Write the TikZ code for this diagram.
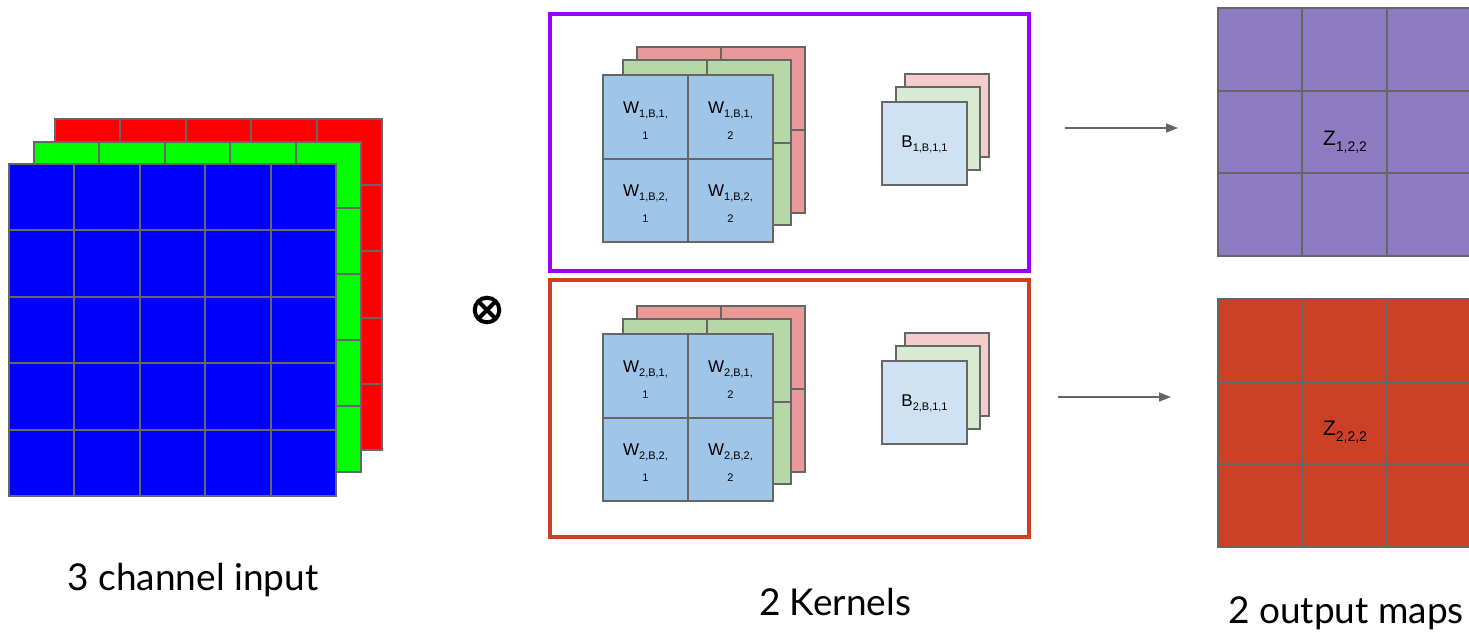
\documentclass[tikz,border=0pt]{standalone}
\usepackage{fontspec}
\setmainfont{Liberation Sans}
\newfontfamily\labelfont{Lato}
\usetikzlibrary{arrows.meta}

\definecolor{gridgray}{HTML}{666666}
\definecolor{inR}{HTML}{FF0000}
\definecolor{inG}{HTML}{00FF00}
\definecolor{inB}{HTML}{0000FF}
\definecolor{kR}{HTML}{EA9999}
\definecolor{kG}{HTML}{B6D7A8}
\definecolor{kB}{HTML}{9FC5E8}
\definecolor{bR}{HTML}{F4CCCC}
\definecolor{bG}{HTML}{D9EAD3}
\definecolor{bB}{HTML}{CFE2F3}
\definecolor{kpurple}{HTML}{9900FF}
\definecolor{kred}{HTML}{CC4125}
\definecolor{outP}{HTML}{8E7CC3}
\definecolor{outR}{HTML}{CC4125}

\tikzset{
  gridln/.style={draw=gridgray, line width=2pt},
  kernelbox/.style={line width=4.5pt},
  flow/.style={draw=gridgray, line width=1.6pt, -{Triangle[length=12pt,width=9pt]}},
  caption/.style={font=\labelfont\fontsize{37}{42}\selectfont, inner sep=0pt},
  wlabel/.style={font=\fontsize{17}{19}\selectfont, align=center, inner sep=0pt},
  zlabel/.style={font=\fontsize{21}{23}\selectfont, inner sep=0pt},
}

% a filled sheet of n x n cells: x0 y0 x1 y1 n fill
\newcommand\gridsheet[6]{%
  \fill[#6] (#1,#2) rectangle (#3,#4);
  \pgfmathtruncatemacro\gsm{#5-1}%
  \ifnum\gsm>0
  \foreach \k in {1,...,\gsm}{%
    \draw[gridln] ({#1+(#3-#1)*\k/#5},#2) -- ({#1+(#3-#1)*\k/#5},#4);
    \draw[gridln] (#1,{#2+(#4-#2)*\k/#5}) -- (#3,{#2+(#4-#2)*\k/#5});
  }%
  \fi
  \draw[gridln] (#1,#2) rectangle (#3,#4);
}

% weight label: W with a subscript that wraps onto a second line
\newcommand\wtext[2]{W\raisebox{-4pt}{\fontsize{11}{12}\selectfont #1}\\[7pt]{\fontsize{11}{12}\selectfont #2}}

\begin{document}
\begin{tikzpicture}[x=1pt,y=-1pt]
\useasboundingbox (0,0) rectangle (1469,633);

% ---- three channel input ----
\gridsheet{55}{119}{382}{450}{5}{inR}
\gridsheet{34}{142}{361}{472}{5}{inG}
\gridsheet{9}{164}{336}{496}{5}{inB}
\node[caption] (incap) at (193,580) {3 channel input};

% ---- convolution operator ----
\draw[line width=4pt] (487,310) circle (12.3);
\draw[line width=4pt] (478.3,301.3) -- (495.7,318.7) (478.3,318.7) -- (495.7,301.3);
\coordinate (op) at (487,310);

% ---- kernel frames ----
\draw[kernelbox, kpurple] (550,14) rectangle (1029,271);
\draw[kernelbox, kred] (550,280) rectangle (1029,537);

% ---- kernel 1 ----
\gridsheet{637}{47}{805}{213}{2}{kR}
\gridsheet{623}{60}{791}{225}{2}{kG}
\gridsheet{603}{75}{773}{242}{2}{kB}
\node[wlabel] (w111) at (645.5,121) {\wtext{1,B,1,}{1}};
\node[wlabel] (w112) at (730.5,121) {\wtext{1,B,1,}{2}};
\node[wlabel] (w121) at (645.5,204) {\wtext{1,B,2,}{1}};
\node[wlabel] (w122) at (730.5,204) {\wtext{1,B,2,}{2}};
\gridsheet{905}{74}{989}{157}{1}{bR}
\gridsheet{896}{87}{980}{170}{1}{bG}
\gridsheet{882}{102}{967}{185}{1}{bB}
\node[wlabel] (b1) at (924.5,144) {B\raisebox{-4pt}{\fontsize{11}{12}\selectfont 1,B,1,1}};

% ---- kernel 2 ----
\gridsheet{637}{306}{805}{472}{2}{kR}
\gridsheet{623}{319}{791}{484}{2}{kG}
\gridsheet{603}{334}{773}{501}{2}{kB}
\node[wlabel] (w211) at (645.5,380) {\wtext{2,B,1,}{1}};
\node[wlabel] (w212) at (730.5,380) {\wtext{2,B,1,}{2}};
\node[wlabel] (w221) at (645.5,463) {\wtext{2,B,2,}{1}};
\node[wlabel] (w222) at (730.5,463) {\wtext{2,B,2,}{2}};
\gridsheet{905}{333}{989}{416}{1}{bR}
\gridsheet{896}{346}{980}{429}{1}{bG}
\gridsheet{882}{361}{967}{444}{1}{bB}
\node[wlabel] (b2) at (924.5,403) {B\raisebox{-4pt}{\fontsize{11}{12}\selectfont 2,B,1,1}};

\node[caption] (kcap) at (835,602) {2 Kernels};

% ---- arrows to the output maps ----
\coordinate (a1s) at (1065,128);
\coordinate (a1e) at (1178,128);
\coordinate (a2s) at (1058,397);
\coordinate (a2e) at (1171,397);
\draw[flow] (a1s) -- (a1e);
\draw[flow] (a2s) -- (a2e);

% ---- output maps ----
\gridsheet{1218}{8}{1471}{256}{3}{outP}
\gridsheet{1218}{299}{1471}{547}{3}{outR}
\node[zlabel] (z1) at (1345,142) {Z\raisebox{-6pt}{\fontsize{14}{16}\selectfont 1,2,2}};
\node[zlabel] (z2) at (1345,432) {Z\raisebox{-6pt}{\fontsize{14}{16}\selectfont 2,2,2}};

\node[caption] (ocap) at (1346,613) {2 output maps};
\end{tikzpicture}
\end{document}
